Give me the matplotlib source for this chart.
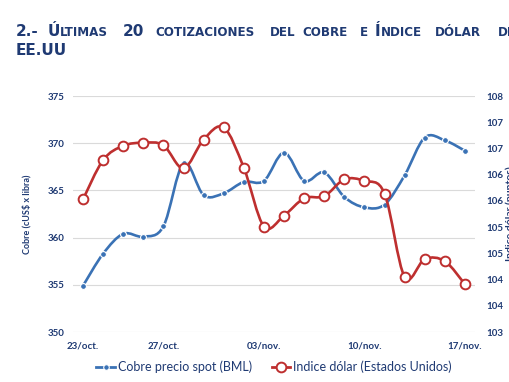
import numpy as np
import matplotlib
matplotlib.use("Agg")
import matplotlib.pyplot as plt
from matplotlib.path import Path
from matplotlib.patches import PathPatch
from matplotlib.lines import Line2D

# datos
cobre = [354.9, 358.3, 360.4, 360.1, 361.2, 367.9, 364.5, 364.7, 365.9, 366.0,
         369.0, 366.0, 366.9, 364.3, 363.2, 363.5, 366.6, 370.6, 370.3, 369.2]
dolar = [105.93, 106.68, 106.95, 107.01, 106.96, 106.52, 107.07, 107.30, 106.53, 105.41,
         105.62, 105.95, 105.99, 106.31, 106.28, 106.04, 104.45, 104.79, 104.75, 104.31]
fechas_idx = [0, 4, 9, 14, 19]
fechas = ["23/oct.", "27/oct.", "03/nov.", "10/nov.", "17/nov."]
ticks_cobre = [350, 355, 360, 365, 370, 375]
ticks_dolar = [103.4, 103.9, 104.4, 104.9, 105.4, 105.9, 106.4, 106.9, 107.4, 107.9]

AZUL = "#3A72B5"
ROJO = "#BE2F2F"
NAVY = "#1F3A73"
W, H = 510, 382


def curva_suave(xs, ys):
    '''Path con curvas bezier (tipo Catmull-Rom) que pasa por los puntos'''
    pts = list(zip(xs, ys))
    n = len(pts)
    verts = [pts[0]]
    codes = [Path.MOVETO]
    for i in range(n - 1):
        p0 = pts[max(i - 1, 0)]
        p1 = pts[i]
        p2 = pts[i + 1]
        p3 = pts[min(i + 2, n - 1)]
        c1 = (p1[0] + (p2[0] - p0[0]) / 6, p1[1] + (p2[1] - p0[1]) / 6)
        c2 = (p2[0] - (p3[0] - p1[0]) / 6, p2[1] - (p3[1] - p1[1]) / 6)
        verts += [c1, c2, p2]
        codes += [Path.CURVE4] * 3
    return Path(verts, codes)


fig = plt.figure(figsize=(W / 100, H / 100), dpi=100)
ax = fig.add_axes([73 / W, 1 - 332 / H, (475 - 73) / W, (332 - 96) / H])
ax2 = ax.twinx()

x = np.arange(len(cobre))

ax.add_patch(PathPatch(curva_suave(x, cobre), fill=False, edgecolor=AZUL, lw=1.9, zorder=3))
ax.plot(x, cobre, linestyle="none", marker="o", markersize=4.2, markerfacecolor=AZUL,
        markeredgecolor="white", markeredgewidth=0.8, zorder=4)

ax2.add_patch(PathPatch(curva_suave(x, dolar), fill=False, edgecolor=ROJO, lw=1.9, zorder=3))
ax2.plot(x, dolar, linestyle="none", marker="o", markersize=7, markerfacecolor="white",
         markeredgecolor=ROJO, markeredgewidth=1.4, zorder=4)

ax.set_xlim(-0.5, len(cobre) - 0.5)
ax.set_ylim(350, 375)
ax2.set_ylim(103.4, 107.9)

ax.set_yticks(ticks_cobre)
ax.set_yticklabels([str(t) for t in ticks_cobre])
ax2.set_yticks(ticks_dolar)
ax2.set_yticklabels(["%.0f" % t for t in ticks_dolar])
ax.set_xticks(fechas_idx)
ax.set_xticklabels(fechas)

ax.grid(axis="y", color="#DADADA", lw=0.8)
ax.set_axisbelow(True)
for a in (ax, ax2):
    for s in a.spines.values():
        s.set_visible(False)

fuente = dict(family=["Lato", "DejaVu Sans"], weight="bold", color=NAVY)
ax.tick_params(axis="y", length=0, pad=6, labelsize=7, labelcolor=NAVY)
ax.tick_params(axis="x", length=0, pad=7, labelsize=7, labelcolor=NAVY)
ax2.tick_params(axis="y", length=0, pad=8, labelsize=7, labelcolor=NAVY)
for lab in ax.get_xticklabels() + ax.get_yticklabels() + ax2.get_yticklabels():
    lab.set_family(["Lato", "DejaVu Sans"])
    lab.set_weight("bold")

ax.set_ylabel("Cobre (cUS$ x libra)", fontsize=6.5, **fuente)
ax.yaxis.set_label_coords((31 - 73) / (475 - 73), 0.5)
# en la referencia esta etiqueta queda cortada por el borde derecho
fig.text(505 / W, 1 - 214 / H, "Indice dólar (puntos)", rotation=90, ha="left", va="center",
         fontsize=7.5, **fuente)

# leyenda
handles = [
    Line2D([], [], color=AZUL, lw=2, marker="o", markersize=4, markerfacecolor=AZUL,
           markeredgecolor="white", markeredgewidth=0.8),
    Line2D([], [], color=ROJO, lw=2, marker="o", markersize=7, markerfacecolor="white",
           markeredgecolor=ROJO, markeredgewidth=1.4),
]
leg = fig.legend(handles, ["Cobre precio spot (BML)", "Indice dólar (Estados Unidos)"],
                 loc="center", bbox_to_anchor=(274 / W, 1 - 367 / H), ncol=2, frameon=False,
                 handlelength=1.5, handletextpad=0.2, columnspacing=1.6,
                 prop=dict(family=["Lato", "DejaVu Sans"], size=9))
for t in leg.get_texts():
    t.set_color(NAVY)


# titulo en versalitas
def palabra(x_px, y_px, piezas):
    prev = None
    for texto, grande in piezas:
        tam = 11 if grande else 8.6
        if prev is None:
            prev = ax.annotate(texto, xy=(x_px / W, 1 - y_px / H), xycoords="figure fraction",
                               ha="left", va="baseline", fontsize=tam, weight="bold",
                               color=NAVY, annotation_clip=False)
        else:
            prev = ax.annotate(texto, xy=(1, 1 - y_px / H), xycoords=(prev, "figure fraction"),
                               ha="left", va="baseline", fontsize=tam, weight="bold",
                               color=NAVY, annotation_clip=False)


y1, y2 = 36, 55
palabra(16, y1, [("2.-", True)])
palabra(48, y1, [("Ú", True), ("LTIMAS", False)])
palabra(123, y1, [("20", True)])
palabra(155, y1, [("COTIZACIONES", False)])
palabra(270, y1, [("DEL", False)])
palabra(302, y1, [("COBRE", False)])
palabra(360, y1, [("E", False)])
palabra(375, y1, [("Í", True), ("NDICE", False)])
palabra(435, y1, [("DÓLAR", False)])
palabra(498, y1, [("DE", False)])
palabra(16, y2, [("EE.UU", True)])

fig.savefig("out.png", dpi=100)
